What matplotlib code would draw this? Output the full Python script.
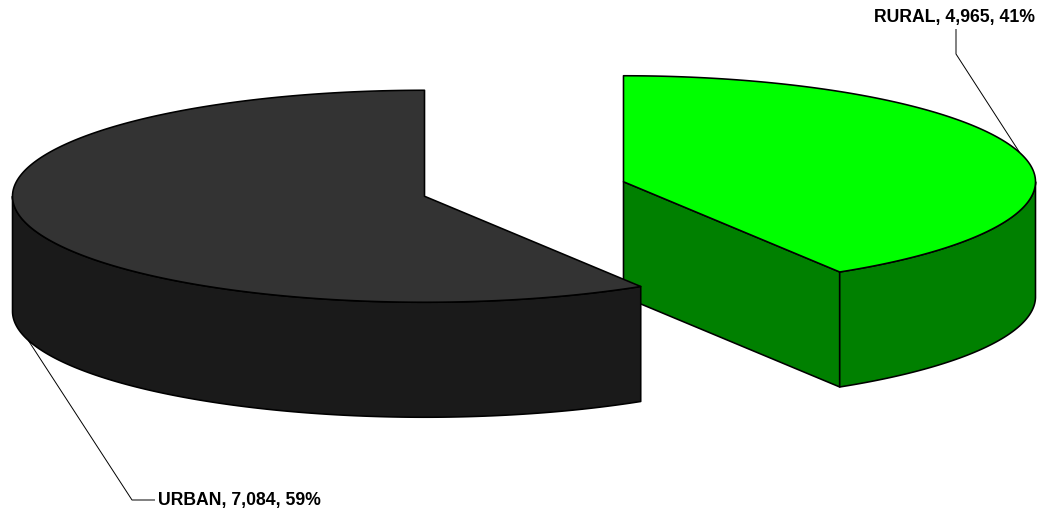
import numpy as np
import matplotlib
matplotlib.use("Agg")
import matplotlib.pyplot as plt
from matplotlib.patches import Polygon

# ---- data ----
categories = ["RURAL", "URBAN"]
values = [4965, 7084]
top_colors = ["#00ff00", "#333333"]
side_colors = ["#008000", "#1a1a1a"]

# ---- layout (pixel space) ----
W, H = 1052, 514
center = np.array([524.0, 189.0])
rx, ry = 412.0, 106.0
depth = 115.0
explode = 0.251
start_angle = 90.0

fig = plt.figure(figsize=(W / 100, H / 100), dpi=100)
ax = fig.add_axes([0, 0, 1, 1])
ax.set_xlim(0, W)
ax.set_ylim(H, 0)
ax.axis("off")

total = float(sum(values))
fracs = [v / total for v in values]

def pt(c, a_deg, dz=0.0):
    a = np.deg2rad(a_deg)
    return np.array([c[0] + rx * np.cos(a), c[1] - ry * np.sin(a) + dz])

EC = "black"
LW = 1.15

slices = []
a = start_angle
for i, f in enumerate(fracs):
    a1 = a
    a2 = a - 360.0 * f
    mid = (a1 + a2) / 2.0
    m = np.deg2rad(mid)
    c = center + np.array([explode * rx * np.cos(m), -explode * ry * np.sin(m)])
    slices.append((i, a1, a2, mid, c))
    a = a2

# draw back slices first (smaller center y = further back)
order = sorted(slices, key=lambda s: s[4][1])
for i, a1, a2, mid, c in order:
    # radial faces
    for edge, normal in ((a1, a1 + 90.0), (a2, a2 - 90.0)):
        if np.sin(np.deg2rad(normal)) < -1e-9:
            p = pt(c, edge)
            quad = [c, p, p + [0, depth], c + [0, depth]]
            ax.add_patch(Polygon(quad, closed=True, fc=side_colors[i], ec=EC, lw=LW, joinstyle="round"))
    # outer rim (front part: angles with sin < 0)
    lo, hi = a2, a1
    for k in range(-2, 3):
        flo, fhi = 180.0 + 360.0 * k, 360.0 + 360.0 * k
        s, e = max(lo, flo), min(hi, fhi)
        if e - s > 1e-6:
            ang = np.linspace(s, e, 200)
            top = np.array([pt(c, t) for t in ang])
            bot = top + [0, depth]
            poly = np.vstack([top, bot[::-1]])
            ax.add_patch(Polygon(poly, closed=True, fc=side_colors[i], ec=EC, lw=LW, joinstyle="round"))
    # top face
    ang = np.linspace(a1, a2, 300)
    arc = np.array([pt(c, t) for t in ang])
    poly = np.vstack([c, arc])
    ax.add_patch(Polygon(poly, closed=True, fc=top_colors[i], ec=EC, lw=LW, joinstyle="round"))

# ---- labels ----
font = dict(family=["Liberation Sans", "DejaVu Sans"], fontweight="bold", fontsize=12.7, color="black")
labels = [f"{cat}, {v:,}, {round(f * 100):.0f}%" for cat, v, f in zip(categories, values, fracs)]

# RURAL: label above, leader to top rim at mid-angle
i, a1, a2, mid, c = slices[0]
tip = pt(c, mid)
lx, ly = 955.0, 22.0
ax.text(lx, ly, labels[0], ha="center", va="baseline", **font)
ax.plot([lx + 1, lx + 1, tip[0]], [ly + 7, ly + 32, tip[1]], color="black", lw=0.7, solid_capstyle="butt")

# URBAN: label below-left, leader to bottom rim at mid-angle
i, a1, a2, mid, c = slices[1]
tip = pt(c, mid, depth)
lx, ly = 158.0, 505.0
ax.text(lx, ly, labels[1], ha="left", va="baseline", **font)
ax.plot([tip[0], lx - 26, lx - 3], [tip[1], ly - 5, ly - 5], color="black", lw=0.7, solid_capstyle="butt")

fig.savefig("out.png", dpi=100)
